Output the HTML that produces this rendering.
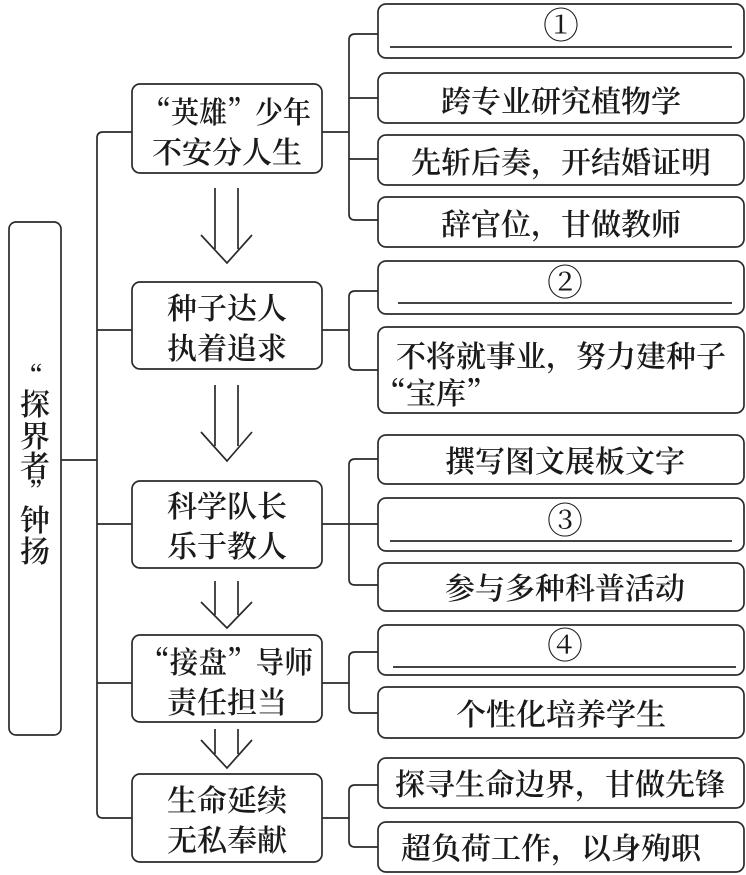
<!DOCTYPE html>
<html><head><meta charset="utf-8"><style>
html,body{margin:0;padding:0;background:#fff}
svg{display:block}
text{font-family:"Noto Serif CJK SC","Liberation Serif",serif;font-weight:600;fill:#1a1a1a;text-anchor:middle;dominant-baseline:central}
.n{font-family:"Liberation Serif","Noto Serif CJK SC",serif;font-size:36px;font-weight:400}
</style></head><body>
<svg width="746" height="875" viewBox="0 0 746 875" xmlns="http://www.w3.org/2000/svg">
<g fill="none" stroke="#2a2a2a" stroke-width="1.7">
<rect x="9" y="222" width="52" height="513" rx="7"/>
<line x1="61" y1="460" x2="97" y2="460"/>
<path d="M132 132 H103 Q97 132 97 138 V812 Q97 818 103 818 H132"/>
<line x1="97" y1="330" x2="132" y2="330"/>
<line x1="97" y1="524" x2="132" y2="524"/>
<line x1="97" y1="683" x2="132" y2="683"/>
<rect x="132" y="84" width="190" height="89" rx="8"/>
<rect x="132" y="282" width="190" height="87" rx="8"/>
<rect x="132" y="481" width="190" height="87" rx="8"/>
<rect x="132" y="635" width="190" height="87" rx="8"/>
<rect x="132" y="774" width="190" height="88" rx="8"/>
<line x1="322" y1="132" x2="349" y2="132"/>
<line x1="322" y1="330" x2="349" y2="330"/>
<line x1="322" y1="524" x2="378" y2="524"/>
<line x1="322" y1="683" x2="349" y2="683"/>
<line x1="322" y1="818" x2="349" y2="818"/>
<path d="M378 34 H355 Q349 34 349 40 V214 Q349 220 355 220 H378"/>
<line x1="349" y1="98" x2="378" y2="98"/>
<line x1="349" y1="159" x2="378" y2="159"/>
<path d="M378 291 H355 Q349 291 349 297 V364 Q349 370 355 370 H378"/>
<path d="M378 459 H355 Q349 459 349 465 V579 Q349 585 355 585 H378"/>
<path d="M378 652 H355 Q349 652 349 658 V707 Q349 713 355 713 H378"/>
<path d="M378 785 H355 Q349 785 349 791 V841 Q349 847 355 847 H378"/>
<rect x="378" y="4" width="366" height="54" rx="8"/>
<rect x="378" y="73" width="366" height="50" rx="8"/>
<rect x="378" y="135" width="366" height="50" rx="8"/>
<rect x="378" y="197" width="366" height="50" rx="8"/>
<rect x="378" y="261" width="366" height="53" rx="8"/>
<rect x="378" y="327" width="366" height="86" rx="8"/>
<rect x="378" y="435" width="366" height="49" rx="8"/>
<rect x="378" y="498" width="366" height="53" rx="8"/>
<rect x="378" y="563" width="366" height="48" rx="8"/>
<rect x="378" y="625" width="366" height="50" rx="8"/>
<rect x="378" y="687" width="366" height="51" rx="8"/>
<rect x="378" y="758" width="366" height="50" rx="8"/>
<rect x="378" y="822" width="366" height="50" rx="8"/>
<line x1="390" y1="47" x2="732" y2="47"/>
<line x1="398" y1="303" x2="732" y2="303"/>
<line x1="390" y1="541" x2="732" y2="541"/>
<line x1="393" y1="667" x2="736" y2="667"/>
<path d="M215 188 V249 M238 188 V249 M201 235 L227 263 L252 235"/>
<path d="M215 385 V446 M238 385 V446 M201 432 L227 461 L252 432"/>
<path d="M215 581 V615 M238 581 V615 M201 602 L227 628 L252 602"/>
<path d="M215 729 V754 M238 729 V754 M201 740 L227 768 L252 740"/>
</g>
<g font-size="30">
<text x="30" y="376" font-size="26">“</text>
<text x="35" y="402">探</text>
<text x="35" y="434">界</text>
<text x="35" y="464">者</text>
<text x="42" y="492" font-size="26">”</text>
<text x="35" y="518">钟</text>
<text x="35" y="549">扬</text>

<text x="227" y="110" textLength="168" lengthAdjust="spacingAndGlyphs">“英雄”少年</text>
<text x="227" y="150">不安分人生</text>
<text x="227" y="306">种子达人</text>
<text x="227" y="346">执着追求</text>
<text x="227" y="504">科学队长</text>
<text x="227" y="544">乐于教人</text>
<text x="227" y="660" textLength="172" lengthAdjust="spacingAndGlyphs">“接盘”导师</text>
<text x="227" y="700">责任担当</text>
<text x="227" y="798">生命延续</text>
<text x="227" y="838">无私奉献</text>

<text class="n" x="561" y="26">①</text>
<text x="561" y="99">跨专业研究植物学</text>
<text x="561" y="160">先斩后奏，开结婚证明</text>
<text x="561" y="222">辞官位，甘做教师</text>
<text class="n" x="565" y="283">②</text>
<text x="561" y="354">不将就事业，努力建种子</text>
<text x="436" y="391">“宝库”</text>
<text x="565" y="459">撰写图文展板文字</text>
<text class="n" x="565" y="521">③</text>
<text x="565" y="586">参与多种科普活动</text>
<text class="n" x="565" y="646">④</text>
<text x="561" y="712">个性化培养学生</text>
<text x="560" y="782">探寻生命边界，甘做先锋</text>
<text x="551" y="846">超负荷工作，以身殉职</text>
</g>
</svg>
</body></html>
